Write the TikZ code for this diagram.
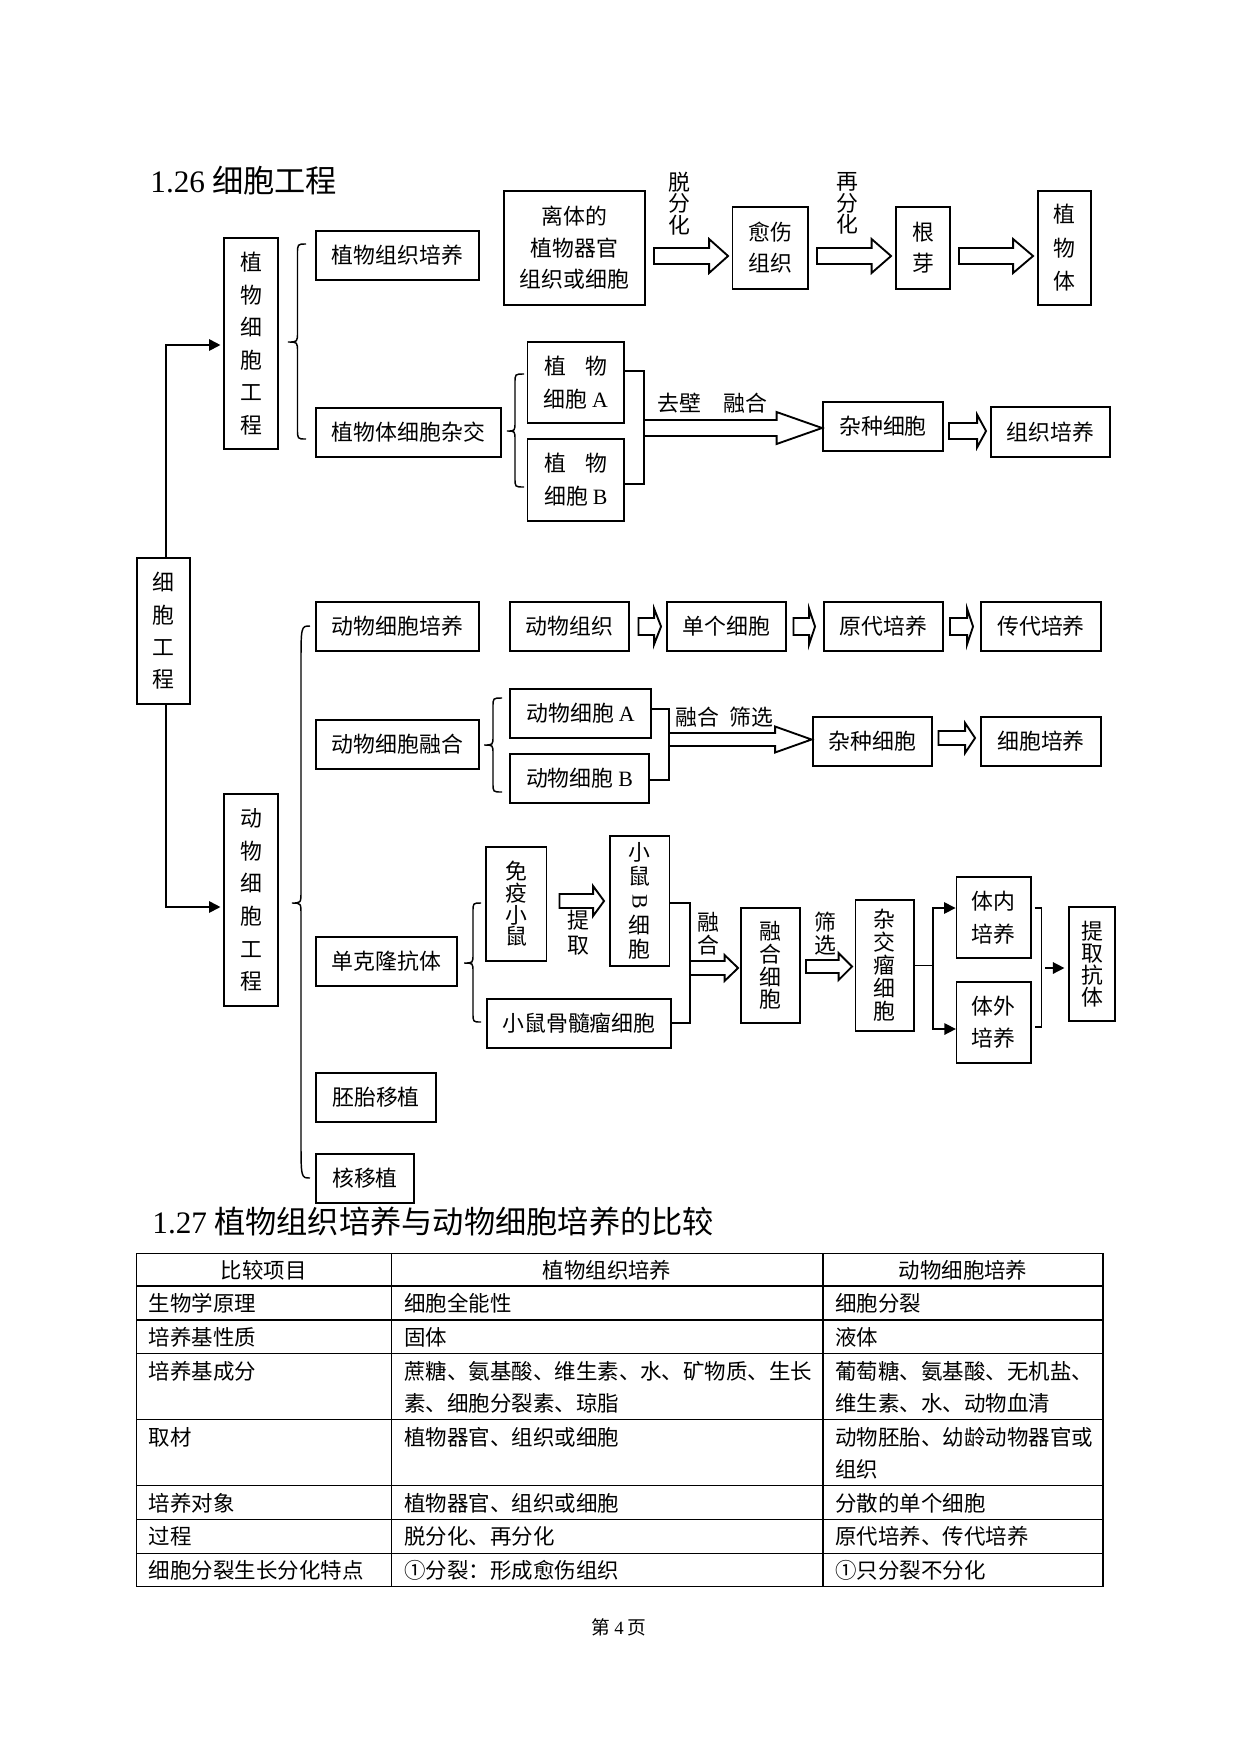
\documentclass[tikz,border=0pt]{standalone}
\usepackage{fontspec}
\setmainfont{Noto Sans CJK SC}
\newfontfamily\lat{Liberation Serif}
\usepackage{graphicx}
\usetikzlibrary{arrows.meta,calc}

\tikzset{
 bxs/.style={draw, line width=0.9pt, inner sep=0pt, align=center, font=\fontsize{10.5}{15.5}\selectfont},
 thinb/.style={line width=0.6pt},
 ls/.style={font=\fontsize{10.5}{#1}\selectfont},
 hollow/.style={draw, line width=0.9pt, fill=white, line join=miter},
 brc/.style={draw, line width=0.7pt},
 conn/.style={draw, line width=0.7pt},
 sarr/.style={conn, -{Triangle[length=5.5pt,width=5.5pt]}},
 lbl/.style={inner sep=0pt, align=center, font=\fontsize{10.5}{#1}\selectfont},
 tcell/.style={inner sep=0pt, anchor=west, font=\fontsize{10.3}{12}\selectfont},
 thead/.style={inner sep=0pt, font=\fontsize{10.3}{12}\selectfont},
 tline/.style={line width=0.6pt},
 ttl/.style={inner sep=0pt, anchor=west, font=\fontsize{15}{17}\selectfont},
}

% box by corners (px): [opts]{name}{x1}{y1}{x2}{y2}{text}
\newcommand\bx[7][]{%
 \pgfmathsetmacro\bxw{(#5-#3)*0.48}%
 \pgfmathsetmacro\bxh{(#6-#4)*0.48}%
 \node[bxs,minimum width=\bxw pt,minimum height=\bxh pt,#1] (#2) at ({(#3+#5)/2},{(#4+#6)/2}) {#7};}

% hollow block arrow: {from}{to}{gapL}{gapR}{y}{shaft half}{head half}{head length} (px)
\newcommand\harrow[8]{%
 \draw[hollow] let \p1=(#1), \p2=(#2) in
 ({\x1+#3*0.48pt},{-(#5-#6)*0.48pt}) -- ({\x2-(#4+#8)*0.48pt},{-(#5-#6)*0.48pt}) --
 ({\x2-(#4+#8)*0.48pt},{-(#5-#7)*0.48pt}) -- ({\x2-#4*0.48pt},{-#5*0.48pt}) --
 ({\x2-(#4+#8)*0.48pt},{-(#5+#7)*0.48pt}) -- ({\x2-(#4+#8)*0.48pt},{-(#5+#6)*0.48pt}) --
 ({\x1+#3*0.48pt},{-(#5+#6)*0.48pt}) -- cycle;}

% curly brace: {xtip}{xspine}{xpoint}{ytop}{ymid}{ybot}{end r}{mid r}
\newcommand\cbrace[8]{%
 \draw[brc] (#1,#4) .. controls (#2,#4) .. (#2,{#4+#7}) -- (#2,{#5-#8})
   .. controls (#2,#5) .. (#3,#5) .. controls (#2,#5) .. (#2,{#5+#8})
   -- (#2,{#6-#7}) .. controls (#2,#6) .. (#1,#6);}

\begin{document}
\begin{tikzpicture}[x=0.48pt,y=-0.48pt]
\path[use as bounding box, fill=white] (0,0) rectangle (1241,1754);

% titles
\node[ttl] (t1) at (150,181) {{\lat 1.26} 细胞工程};
\node[ttl] (t2) at (152,1222) {{\lat 1.27} 植物组织培养与动物细胞培养的比较};

% ---------- left hierarchy
\bx[thinb,ls=15.5]{cell}{137}{558}{190}{704}{细\\胞\\工\\程}
\bx[thinb,ls=15.6]{plant}{224}{238}{278}{449}{植\\物\\细\\胞\\工\\程}
\bx[thinb,ls=15.7]{animal}{224}{794}{278}{1006}{动\\物\\细\\胞\\工\\程}

\draw[sarr, line width=0.9pt, shorten >=1.4pt] ([xshift=1.2pt]cell.north) |- (plant.west |- 0,345);
\draw[sarr, line width=0.9pt, shorten >=1.4pt] ([xshift=1.2pt]cell.south) |- (animal.west |- 0,907);

% ---------- plant part
\cbrace{306}{297.5}{288}{244}{342}{439}{10}{10}
\bx{ptc}{316}{231}{479}{280}{植物组织培养}
\bx{psh}{316}{408}{501}{457}{植物体细胞杂交}

\bx[ls=15.1]{iso}{504}{191}{645}{305}{离体的\\植物器官\\组织或细胞}
\bx[ls=14.9]{cal}{732.5}{207}{808}{289}{愈伤\\组织}
\bx[ls=14.9]{gy}{896}{207}{950}{289}{根\\芽}
\bx[ls=16.1]{pb}{1038}{191}{1091}{305}{植\\物\\体}
\harrow{iso.east}{cal.west}{8}{3.5}{256}{8}{17}{19}
\harrow{cal.east}{gy.west}{8}{4}{256}{8}{17}{19.5}
\harrow{gy.east}{pb.west}{8}{4}{256}{8}{17}{20}
\node[lbl=10.3] (l1) at (679,203.5) {脱\\分\\化};
\node[lbl=10.3] (l2) at (847.5,203.5) {再\\分\\化};

\cbrace{524}{515}{507}{374}{431}{487}{9}{9}
\bx[ls=15.8]{pa}{527.5}{342}{624}{423}{\makebox[30pt]{植\hfill 物}\\细胞 {\lat A}}
\bx[ls=15.8]{pbB}{527.5}{439}{624}{521}{\makebox[30pt]{植\hfill 物}\\细胞 {\lat B}}
\draw[conn] (pa.east |- 0,371) -- (644,371) -- (644,484) -- (pbB.east |- 0,484);
\coordinate (j1) at (644,428);
\bx{hy1}{823}{402}{943}{451}{杂种细胞}
\bx{tc}{991}{407}{1110}{457}{组织培养}
\harrow{j1}{hy1.west}{0}{0}{428}{8}{16}{45.5}
\harrow{hy1.east}{tc.west}{5}{4}{431}{8}{16.5}{9}
\node[lbl=12] (l3) at (712.5,403) {去壁\hspace{1em}融合};

% ---------- animal part
\cbrace{310}{301}{292}{626}{903}{1178}{40}{12}
\bx{acc}{316}{602}{479}{651}{动物细胞培养}
\bx{at}{510}{602}{629}{651}{动物组织}
\bx{sc}{667}{602}{786}{651}{单个细胞}
\bx{pc}{824}{602}{943}{651}{原代培养}
\bx{sub}{981}{602}{1101}{651}{传代培养}
\harrow{at.east}{sc.west}{8.5}{5}{626.5}{8.5}{18}{7}
\harrow{sc.east}{pc.west}{6.5}{8}{626.5}{8.5}{18}{6}
\harrow{pc.east}{sub.west}{6}{7}{626.5}{8.5}{18}{6}

\bx{acf}{316}{720}{479}{769}{动物细胞融合}
\cbrace{502}{493}{484}{698}{745}{792}{9}{9}
\bx{aa}{510}{689}{651}{738}{动物细胞 {\lat A}}
\bx[thinb]{ab}{510}{754}{649}{803}{动物细胞 {\lat B}}
\draw[conn] (aa.east |- 0,709) -- (669,709) -- (669,780) -- (ab.east |- 0,780);
\coordinate (j2) at (669,739.5);
\bx{hy2}{813}{717}{932}{766}{杂种细胞}
\bx{cc}{981}{717}{1101}{766}{细胞培养}
\harrow{j2}{hy2.west}{0}{0.5}{739.5}{6.5}{13}{36.5}
\harrow{hy2.east}{cc.west}{5.5}{5}{738}{7}{15}{10}
\node[lbl=12] (l4) at (724.5,717) {融合\hspace{0.5em}筛选};

% monoclonal antibody
\bx[thinb]{mab}{316}{937}{457}{986}{单克隆抗体}
\cbrace{481}{473}{464}{903}{963}{1022}{9}{9}
\bx[ls=10.4]{imm}{486}{847}{546.5}{961}{免\\疫\\小\\鼠}
\bx[ls=11.6]{bc}{610}{836}{669.5}{966}{小\\鼠\\\rotatebox[origin=c]{-90}{\lat B}\\细\\胞}
\bx[thinb]{mye}{487}{999}{671}{1048}{小鼠骨髓瘤细胞}
\harrow{imm.east}{bc.west}{12}{5}{901}{7}{15}{11}
\node[lbl=12] (l5) at (578,932.5) {提\\取};
\draw[conn] (bc.east |- 0,903) -- (690,903) -- (690,1023) -- (mye.east |- 0,1023);
\coordinate (j3) at (690,968);
\bx[ls=10.9]{fus}{741}{908}{800}{1023}{融\\合\\细\\胞}
\harrow{j3}{fus.west}{0}{2}{968}{7}{13}{13.5}
\node[lbl=11] (l6) at (708.5,933.5) {融\\合};
\bx[ls=11]{hyb}{855.5}{900}{914}{1031}{杂\\交\\瘤\\细\\胞}
\harrow{fus.east}{hyb.west}{5}{2.5}{966.5}{6.5}{13.5}{13.5}
\node[lbl=11] (l7) at (825,933.5) {筛\\选};

\bx[ls=15.8]{inv}{956.5}{877}{1031}{958}{体内\\培养}
\bx[thinb,ls=15.4]{ext}{956.5}{982}{1031}{1063}{体外\\培养}
\bx[thinb,ls=10.6]{ab2}{1069}{907}{1115}{1021}{提\\取\\抗\\体}
\draw[conn] (hyb.east) -- (933,965.5) coordinate (fk);
\draw[sarr] (fk) |- (inv.west |- 0,908);
\draw[sarr] (fk) |- (ext.west |- 0,1029);
\draw[conn] (1034.5,908) -- (1041.5,908) -- (1041.5,1027) -- (1034.5,1027);
\coordinate (j4) at (1041.5,968);
\draw[sarr, shorten <=1.7pt, shorten >=1.9pt] (j4) -- (ab2.west |- 0,968);

\bx[thinb]{emb}{316}{1073}{436}{1122}{胚胎移植}
\bx[thinb]{nuc}{316}{1154}{414}{1203}{核移植}

% ---------- table
\foreach \yy in {1253.3,1286,1320,1353.3,1419.3,1485.7,1519.3,1553.3,1586.7}
  \draw[tline] (136.5,\yy) -- (1103,\yy);
\foreach \xx in {136.5,391.5,823,1103}
  \draw[tline] (\xx,1253.3) -- (\xx,1586.7);

\node[thead] (h0) at (263.7,1270) {比较项目};
\node[thead] (h1) at (607,1270) {植物组织培养};
\node[thead] (h2) at (963,1270) {动物细胞培养};

\node[tcell] (r1a) at (148.5,1303) {生物学原理};
\node[tcell] (r1b) at (404,1303) {细胞全能性};
\node[tcell] (r1c) at (835,1303) {细胞分裂};
\node[tcell] (r2a) at (148.5,1337) {培养基性质};
\node[tcell] (r2b) at (404,1337) {固体};
\node[tcell] (r2c) at (835,1337) {液体};
\node[tcell] (r3a) at (148.5,1371) {培养基成分};
\node[tcell] (r3b) at (404,1371) {蔗糖、氨基酸、维生素、水、矿物质、生长};
\node[tcell] (r3c) at (835,1371) {葡萄糖、氨基酸、无机盐、};
\node[tcell] (r3d) at (404,1403) {素、细胞分裂素、琼脂};
\node[tcell] (r3e) at (835,1403) {维生素、水、动物血清};
\node[tcell] (r4a) at (148.5,1437) {取材};
\node[tcell] (r4b) at (404,1437) {植物器官、组织或细胞};
\node[tcell] (r4c) at (835,1437) {动物胚胎、幼龄动物器官或};
\node[tcell] (r4d) at (835,1469) {组织};
\node[tcell] (r5a) at (148.5,1503) {培养对象};
\node[tcell] (r5b) at (404,1503) {植物器官、组织或细胞};
\node[tcell] (r5c) at (835,1503) {分散的单个细胞};
\node[tcell] (r6a) at (148.5,1536) {过程};
\node[tcell] (r6b) at (404,1536) {脱分化、再分化};
\node[tcell] (r6c) at (835,1536) {原代培养、传代培养};
\node[tcell] (r7a) at (148.5,1570) {细胞分裂生长分化特点};
\node[tcell] (r7b) at (404,1570) {①分裂：形成愈伤组织};
\node[tcell] (r7c) at (835,1570) {①只分裂不分化};

\node[inner sep=0pt, font=\fontsize{9}{11}\selectfont] (pg) at (619,1627) {第 {\lat 4} 页};
\end{tikzpicture}
\end{document}
